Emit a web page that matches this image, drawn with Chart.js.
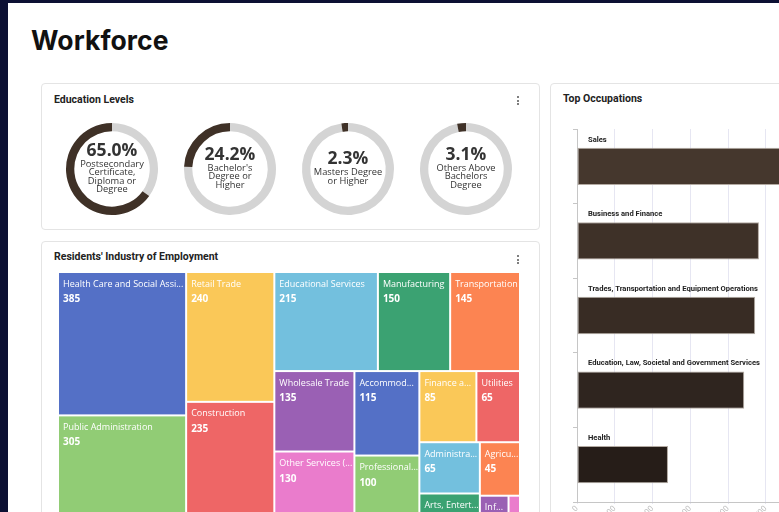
<!DOCTYPE html>
<html>
<head>
<meta charset="utf-8">
<script src="https://cdn.jsdelivr.net/npm/chart.js@4.4.1/dist/chart.umd.min.js"></script>
<style>
  html, body { margin: 0; padding: 0; width: 779px; height: 512px; overflow: hidden; background: #0c1033; }
  #page { position: absolute; left: 8px; top: 3px; width: 1000px; height: 700px; background: #fff; }
  h1 { position: absolute; margin: 0; left: 31px; top: 27px; font: 700 26.5px/26.5px Inter, sans-serif; color: #111; letter-spacing: 0.1px; }
  .card { position: absolute; box-sizing: border-box; border: 1px solid #e4e4e4; border-radius: 4px; background: #fff; }
  .title { position: absolute; margin: 0; font: 700 10.5px/10.5px Roboto, sans-serif; color: #222; white-space: nowrap; }
  .kebab { position: absolute; width: 2px; }
  .kebab i { display: block; width: 2px; height: 2px; background: #555; margin-bottom: 1.5px; border-radius: 1px; }
  canvas { position: absolute; }
</style>
</head>
<body>
<div id="page"></div>
<h1>Workforce</h1>

<div class="card" style="left:41px; top:83px; width:499px; height:147px;"></div>
<div class="card" style="left:41px; top:241px; width:499px; height:330px;"></div>
<div class="card" style="left:550px; top:83px; width:400px; height:470px;"></div>

<div class="title" style="left:54px; top:94.5px;">Education Levels</div>
<div class="title" style="left:54px; top:251.5px;">Residents' Industry of Employment</div>
<div class="title" style="left:563px; top:94px;">Top Occupations</div>

<div class="kebab" style="left:517px; top:96px;"><i></i><i></i><i></i></div>
<div class="kebab" style="left:517px; top:255px;"><i></i><i></i><i></i></div>

<canvas id="edu0" width="100" height="100" style="left:62px; top:119px;"></canvas>
<canvas id="edu1" width="100" height="100" style="left:180px; top:119px;"></canvas>
<canvas id="edu2" width="100" height="100" style="left:298px; top:119px;"></canvas>
<canvas id="edu3" width="100" height="100" style="left:416px; top:119px;"></canvas>

<canvas id="tree" width="462" height="257" style="left:58px; top:272px;"></canvas>

<canvas id="occ" width="332" height="405" style="left:560px; top:115px;"></canvas>

<script>
// education levels
const eduPercents = [65.0, 24.2, 2.3, 3.1];
const eduLabels = [
  ["Postsecondary", "Certificate,", "Diploma or", "Degree"],
  ["Bachelor's", "Degree or", "Higher"],
  ["Masters Degree", "or Higher"],
  ["Others Above", "Bachelors", "Degree"]
];

// residents' industry of employment
const industries = [
  "Health Care and Social Assistance", "Public Administration", "Retail Trade", "Construction",
  "Educational Services", "Manufacturing", "Transportation", "Wholesale Trade",
  "Other Services (except Public Administration)", "Accommodation and Food Services",
  "Professional, Scientific and Technical Services", "Finance and Insurance", "Utilities",
  "Administrative and Support Services", "Arts, Entertainment and Recreation",
  "Agriculture, Forestry, Fishing and Hunting", "Information and Cultural Industries",
  "Real Estate and Rental and Leasing"
];
const employed = [385, 305, 240, 235, 215, 150, 145, 135, 130, 115, 100, 85, 65, 65, 45, 45, 20, 8];
const palette = ["#5470c6", "#91cc75", "#fac858", "#ee6666", "#73c0de", "#3ba272", "#fc8452", "#9a60b4", "#ea7ccc"];

// top occupations
const occupations = [
  "Sales", "Business and Finance", "Trades, Transportation and Equipment Operations",
  "Education, Law, Societal and Government Services", "Health"
];
const occValues = [640, 482, 472, 443, 241];
const occColors = ["#45372d", "#3e3128", "#382c24", "#2f251f", "#261d18"];

const DARK = "#3f3127";
const GRAY = "#d4d4d4";

const centerText = {
  id: "centerText",
  afterDraw(chart) {
    const idx = chart.options.eduIndex;
    const lines = eduLabels[idx];
    const ctx = chart.ctx;
    const cx = (chart.chartArea.left + chart.chartArea.right) / 2;
    const cy = (chart.chartArea.top + chart.chartArea.bottom) / 2;
    const p = cy - (11.5 + 8.4 * (lines.length - 1)) / 2;
    ctx.save();
    ctx.fillStyle = "#333";
    ctx.textAlign = "center";
    ctx.textBaseline = "middle";
    ctx.font = "700 17.5px 'Open Sans'";
    ctx.fillText(eduPercents[idx].toFixed(1) + "%", cx, p);
    ctx.font = "500 9.3px 'Open Sans'";
    lines.forEach((l, i) => ctx.fillText(l, cx, p + 13.5 + 8.4 * i));
    ctx.restore();
  }
};

eduPercents.forEach((v, i) => {
  new Chart(document.getElementById("edu" + i), {
    type: "doughnut",
    data: {
      labels: ["Other", "Share"],
      datasets: [{ data: [100 - v, v], backgroundColor: [GRAY, DARK], borderWidth: 0 }]
    },
    options: {
      eduIndex: i,
      responsive: false,
      animation: false,
      events: [],
      cutout: "82%",
      layout: { padding: 4 },
      plugins: { legend: { display: false }, tooltip: { enabled: false } }
    },
    plugins: [centerText]
  });
});

// plain squarified treemap, laid out in data units of the chart's scales
function squarify(items, w, h) {
  const total = items.reduce((s, c) => s + c.value, 0);
  const k = w * h / total;
  const rect = { x: 0, y: 0, w: w, h: h };
  const cells = [];
  const worst = (r, len) => {
    const s = r.reduce((a, c) => a + c.area, 0);
    let mx = 0, mn = Infinity;
    r.forEach(c => { mx = Math.max(mx, c.area); mn = Math.min(mn, c.area); });
    return Math.max(len * len * mx / (s * s), (s * s) / (len * len * mn));
  };
  const place = r => {
    const s = r.reduce((a, c) => a + c.area, 0);
    if (rect.w >= rect.h) {
      const t = s / rect.h;
      let y = rect.y;
      r.forEach(c => { const ch = c.area / t; cells.push({ ...c, x: rect.x, y: y, w: t, h: ch }); y += ch; });
      rect.x += t; rect.w -= t;
    } else {
      const t = s / rect.w;
      let x = rect.x;
      r.forEach(c => { const cw = c.area / t; cells.push({ ...c, x: x, y: rect.y, w: cw, h: t }); x += cw; });
      rect.y += t; rect.h -= t;
    }
  };
  const list = items.map(c => ({ ...c, area: c.value * k }));
  let row = [];
  let i = 0;
  while (i < list.length) {
    const len = Math.min(rect.w, rect.h);
    if (!row.length || worst(row.concat([list[i]]), len) <= worst(row, len)) {
      row.push(list[i]);
      i++;
    } else {
      place(row);
      row = [];
    }
  }
  if (row.length) place(row);
  return cells;
}

function fitText(ctx, text, max) {
  if (ctx.measureText(text).width <= max) return text;
  let t = text;
  while (t.length > 1 && ctx.measureText(t + "...").width > max) t = t.slice(0, -1);
  return t + "...";
}

const treemapPlugin = {
  id: "treemap",
  afterDatasetsDraw(chart) {
    const xs = chart.scales.x, ys = chart.scales.y;
    const items = industries.map((name, i) => ({ name: name, value: employed[i], color: palette[i % palette.length] }))
      .sort((a, b) => b.value - a.value);
    const cells = squarify(items, xs.max - xs.min, ys.max - ys.min);
    const ctx = chart.ctx;
    ctx.save();
    cells.forEach(c => {
      const x0 = xs.getPixelForValue(c.x), x1 = xs.getPixelForValue(c.x + c.w);
      const y0 = ys.getPixelForValue(c.y), y1 = ys.getPixelForValue(c.y + c.h);
      ctx.fillStyle = c.color;
      ctx.fillRect(x0 + 1, y0 + 1, x1 - x0 - 2, y1 - y0 - 2);
    });
    ctx.fillStyle = "#fff";
    ctx.textBaseline = "alphabetic";
    cells.forEach(c => {
      const x0 = xs.getPixelForValue(c.x), x1 = xs.getPixelForValue(c.x + c.w);
      const y0 = ys.getPixelForValue(c.y);
      const w = x1 - x0;
      if (w < 20) return;
      ctx.font = "400 9px 'Open Sans'";
      ctx.fillText(fitText(ctx, c.name, w - 6), x0 + 5, y0 + 14.5);
      ctx.font = "700 10px 'Open Sans'";
      ctx.fillText(String(c.value), x0 + 5, y0 + 30);
    });
    ctx.restore();
  }
};

new Chart(document.getElementById("tree"), {
  type: "scatter",
  data: { datasets: [{ data: [] }] },
  options: {
    responsive: false,
    animation: false,
    events: [],
    layout: { padding: 0 },
    scales: {
      x: { type: "linear", min: 0, max: 462, display: false },
      y: { type: "linear", min: 0, max: 257, reverse: true, display: false }
    },
    plugins: { legend: { display: false }, tooltip: { enabled: false } }
  },
  plugins: [treemapPlugin]
});

const barLabels = {
  id: "barLabels",
  afterDatasetsDraw(chart) {
    const ctx = chart.ctx;
    const meta = chart.getDatasetMeta(0);
    ctx.save();
    ctx.fillStyle = "#222";
    ctx.font = "700 7.6px Roboto";
    ctx.textBaseline = "alphabetic";
    meta.data.forEach((bar, i) => {
      ctx.fillText(occupations[i], chart.chartArea.left + 11, bar.y - bar.height / 2 - 6);
    });
    ctx.restore();
  }
};

new Chart(document.getElementById("occ"), {
  type: "bar",
  data: {
    labels: occupations,
    datasets: [{
      data: occValues,
      backgroundColor: occColors,
      borderColor: "#b3aaa2",
      borderWidth: 1,
      borderSkipped: false,
      barPercentage: 0.5,
      categoryPercentage: 1
    }]
  },
  options: {
    indexAxis: "y",
    responsive: false,
    animation: false,
    events: [],
    layout: { padding: { left: 13, top: 14, right: 13, bottom: 0 } },
    scales: {
      x: {
        min: 0, max: 800,
        ticks: { stepSize: 100, minRotation: 45, maxRotation: 45, padding: 0, color: "#bdbdbd", font: { size: 8, family: "Roboto" } },
        grid: { color: "#e6e6f2", tickLength: 2 },
        border: { color: "#c6c6c6" },
        afterFit(s) { s.height = 18; s.paddingLeft = 0; s.paddingRight = 0; }
      },
      y: {
        ticks: { display: false },
        grid: { drawOnChartArea: false, drawTicks: true, tickLength: 4, color: "#c6c6c6", offset: true },
        border: { color: "#c6c6c6" },
        afterFit(s) { s.width = 4; }
      }
    },
    plugins: { legend: { display: false }, tooltip: { enabled: false } }
  },
  plugins: [barLabels]
});
</script>
</body>
</html>
